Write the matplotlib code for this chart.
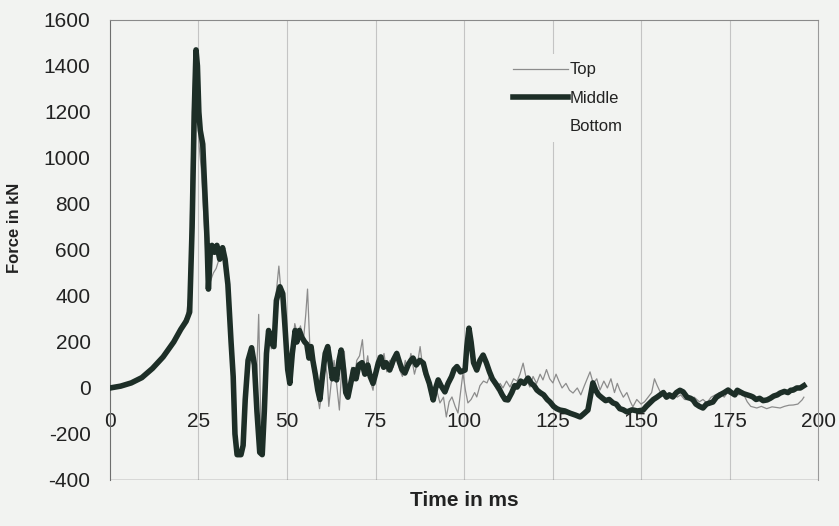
import matplotlib.pyplot as plt

# Middle sensor (thick line), time in ms, force in kN
middle_t = [0, 3, 6, 9, 12, 15, 18, 20, 21.5, 22.5, 23.2, 23.8, 24.3, 24.7, 25.1, 25.5, 26.2, 26.8, 27.4, 27.8,
            28.3, 28.8, 29.5, 30.2, 31, 31.8, 32.5, 33.3, 34.2, 34.8, 35.3, 35.9, 37, 37.6, 38.2, 39, 40, 40.8,
            41.5, 42.3, 43, 43.6, 44.2, 44.8, 45.5, 46.3, 47, 48, 48.8, 49.5, 50.2, 50.8, 51.5, 52.3, 52.8, 53.5,
            54.2, 55, 55.6, 56.2, 56.8, 57.3, 58, 58.7, 59.3, 60, 60.8, 61.5, 62.1, 62.8, 63.5, 64, 64.7, 65.3,
            66, 66.6, 67.2, 68, 68.8, 69.5, 70.3, 71.2, 72, 72.8, 73.5, 74.3, 75, 75.8, 76.5, 77.3, 78, 79, 80,
            81, 81.8, 82.5, 83.3, 84.2, 85, 85.6, 86.5, 87.5, 88.5, 89.3, 90.2, 91.3, 92, 92.7, 93.5, 94.6, 95.5,
            96.5, 97.2, 98, 99, 100.3, 100.8, 101.4, 102, 102.7, 103.6, 104.5, 105.4, 106.3, 107.2, 108, 108.8,
            109.8, 110.8, 111.6, 112.4, 113.5, 114.3, 115, 116, 117, 118.1, 119, 119.8, 120.6, 121.5, 122.5,
            123.5, 124.3, 125.3, 126.2, 127.1, 128.5, 130, 131.5, 132.8, 134, 135, 135.8, 136.4, 137.2, 138, 139,
            140, 141, 142.1, 143, 144, 145, 146, 147.5, 149, 150.6, 151.5, 152.5, 153.5, 154.5, 155.4, 156.3,
            157.2, 158, 159, 160, 161, 161.9, 163, 164, 164.7, 165.5, 166.5, 167.5, 168.5, 169.5, 170.3, 171.3,
            172.3, 173.5, 174.6, 175.5, 176.5, 177.2, 178, 179, 180, 181, 181.6, 182.5, 183.5, 184.5, 185.6,
            186.5, 187.5, 188.5, 189.3, 190.5, 191.5, 192.3, 193, 194, 195, 196]
middle_f = [0, 8, 22, 45, 85, 135, 200, 255, 290, 330, 700, 1200, 1470, 1400, 1200, 1120, 1060, 850, 650, 430,
            580, 620, 590, 620, 560, 610, 560, 450, 200, 50, -200, -290, -290, -250, -50, 120, 175, 100,
            -100, -280, -290, -100, 150, 250, 200, 180, 380, 440, 410, 250, 80, 20, 150, 250, 200, 250,
            220, 200, 190, 130, 180, 120, 60, -10, -50, 50, 150, 180, 120, 40, 80, 35, 120, 165,
            80, -20, -40, 20, 80, 40, 100, 110, 60, 100, 50, 20, 60, 110, 135, 90, 110, 78, 120,
            150, 110, 80, 65, 100, 120, 130, 100, 120, 108, 60, 20, -52, 0, 35, 10, -17, 20,
            50, 80, 93, 70, 78, 180, 260, 200, 110, 78, 120, 143, 110, 70, 40, 22,
            0, -30, -50, -52, -20, 10, 4, 30, 20, 43, 20, 10, -9, -20, -30,
            -50, -61, -80, -90, -96, -100, -110, -118, -126, -110, -96, -30, 22, -10, -30, -43,
            -55, -50, -65, -70, -90, -95, -104, -95, -100, -96, -80, -65, -50, -40, -30, -20,
            -40, -30, -39, -20, -10, -17, -40, -45, -52, -70, -80, -87, -70, -65, -61, -40,
            -30, -20, -9, -20, -30, -10, -17, -25, -30, -35, -39, -50, -45, -55, -52,
            -45, -35, -30, -22, -15, -20, -10, -9, 0, 0, 10]

# Top sensor (thin line)
top_t = [0, 3, 6, 9, 12, 15, 18, 20, 21.5, 22.3, 22.8, 23.3, 23.8, 24.2, 24.7, 25.2, 25.8, 26.5, 27.2, 27.8,
         28.5, 29.2, 30, 30.8, 31.5, 32.3, 33, 34, 34.8, 35.3, 35.9, 37, 37.6, 38.2, 39, 39.8, 40.5, 41.3,
         42, 42.6, 43.2, 43.7, 44.3, 44.9, 45.6, 46.2, 47, 47.7, 48.3, 49, 49.8, 50.6, 51.4, 52.2, 53, 53.8,
         54.6, 55.3, 55.8, 56.4, 57.1, 57.8, 58.5, 59.2, 60, 60.7, 61.3, 61.8, 62.6, 63.3, 64, 64.8, 65.5,
         66.2, 66.8, 67.5, 68.3, 69, 69.7, 70.5, 71.3, 72, 72.8, 73.6, 74.3, 75, 75.8, 76.6, 77.4, 78.2, 79,
         80, 81, 81.8, 82.6, 83.4, 84.2, 85, 86, 87, 87.6, 88.5, 89.5, 90.4, 91.5, 92.3, 93.2, 94.2, 95,
         95.8, 96.6, 97.5, 98.3, 99, 99.7, 100.4, 101.1, 102, 103, 103.6, 104.5, 105.5, 106.5, 107.5, 108.3,
         109.3, 110.2, 111, 112, 113, 114, 115, 115.8, 116.7, 117.6, 118.6, 119.5, 120.5, 121.5, 122.3,
         123.3, 124.2, 125.1, 126, 126.8, 127.7, 128.8, 129.8, 130.8, 132, 133, 134, 134.8, 135.6, 136.5,
         137.5, 138.4, 139.5, 140.5, 141.5, 142.5, 143.3, 144, 145, 146, 147, 147.7, 148.8, 150, 151, 152,
         153, 153.8, 154.5, 155.5, 156.5, 157.3, 158.2, 159.2, 160.2, 161.2, 162.3, 163.8, 165, 166.5, 167.5,
         168.6, 169.8, 171, 172.3, 173.5, 174.3, 175.5, 176.5, 177.6, 178.8, 180, 181, 182.7, 184, 185.5,
         187, 188.3, 189.3, 190.5, 191.8, 193, 194.3, 195.5, 196]
top_f = [0, 8, 22, 45, 85, 135, 205, 265, 310, 400, 800, 1200, 1430, 1440, 1300, 1050, 950, 750, 550, 440,
         470, 500, 520, 560, 600, 560, 470, 250, 50, -180, -270, -280, -230, -60, 100, 160, 80, 0,
         320, -150, -270, -120, 120, 220, 170, 250, 420, 530, 420, 300, 120, 60, 170, 280, 230, 270,
         200, 320, 430, 200, 100, 40, -20, -90, 0, 120, 60, -80, 40, 120, 20, -96, 100,
         160, -30, -20, 90, 30, 120, 140, 210, 70, 140, 30, -10, 80, 140, 100, 150, 70, 120,
         90, 160, 80, 50, 120, 80, 150, 60, 120, 180, 70, 30, 4, -30, -10, -65, -40, -126,
         -60, -39, -80, -109, -20, 65, -10, -65, -50, -20, -39, 10, 30, 22, 60, 20,
         -9, 20, 0, 30, 4, 40, 30, 60, 108, 40, 4, 50, 20, 60, 35,
         80, 40, 22, 60, 30, 0, 20, -10, -22, 0, -30, 10, 40, 70, 20,
         40, -9, 30, 0, 40, -20, 20, -9, -40, -20, -60, -82, -50, -70, -60, -40,
         -20, 40, 13, -20, -10, -30, -43, -20, -40, -30, -50, -52, -40, -60, -50,
         -65, -40, -30, -20, -40, -22, -30, -10, -30, -22, -60, -80, -87, -80, -90,
         -82, -85, -87, -80, -75, -74, -70, -52, -40]

x_ticks = [0, 25, 50, 75, 100, 125, 150, 175, 200]
y_ticks = [-400, -200, 0, 200, 400, 600, 800, 1000, 1200, 1400, 1600]

bg = '#f2f3f1'
plt.rcParams['font.family'] = ['Liberation Sans', 'DejaVu Sans']
plt.rcParams['axes.unicode_minus'] = False

fig = plt.figure(figsize=(8.39, 5.26), dpi=100, facecolor=bg)
ax = fig.add_axes([0.1311, 0.0875, 0.8439, 0.8745], facecolor=bg)

ax.plot(top_t, top_f, color='#8c8c8c', lw=0.9, label='Top', zorder=3)
ax.plot(middle_t, middle_f, color='#1d2e27', lw=4.0, label='Middle', zorder=4, solid_joinstyle='round')
ax.plot([], [], color='none', label='Bottom')

ax.set_xlim(0, 200)
ax.set_ylim(-400, 1600)
ax.set_xticks(x_ticks)
ax.set_yticks(y_ticks)
ax.tick_params(axis='both', length=0, labelsize=15, colors='#222222')
ax.tick_params(axis='y', pad=14)
ax.tick_params(axis='x', pad=17)

# x axis crosses at zero, box drawn separately
ax.spines['bottom'].set_position(('data', 0))
ax.spines['bottom'].set_visible(False)
ax.axhline(-400, color='#6e6e6e', lw=1.0, zorder=2)
ax.spines['left'].set_color('#6e6e6e')
ax.spines['top'].set_color('#8a8a8a')
ax.spines['right'].set_color('#9a9a9a')
ax.spines['right'].set_linewidth(0.8)

for xv in x_ticks[1:-1]:
    ax.axvline(xv, color='#c4c4c4', lw=0.8, zorder=1)

ax.set_xlabel('Time in ms', fontsize=15, fontweight='bold', color='#222222')
ax.set_ylabel('Force in kN', fontsize=12, fontweight='bold', color='#222222')
ax.xaxis.set_label_coords(0.5, -0.025)
ax.yaxis.set_label_coords(-0.124, 0.548)

leg = ax.legend(loc='upper left', bbox_to_anchor=(0.545, 0.944), fontsize=12, frameon=True,
                facecolor=bg, edgecolor='none', framealpha=1, handlelength=3.3, handletextpad=0.1,
                labelspacing=0.8, borderpad=0.5)
for t in leg.get_texts():
    t.set_color('#222222')

fig.savefig('out.png', dpi=100, facecolor=bg)
